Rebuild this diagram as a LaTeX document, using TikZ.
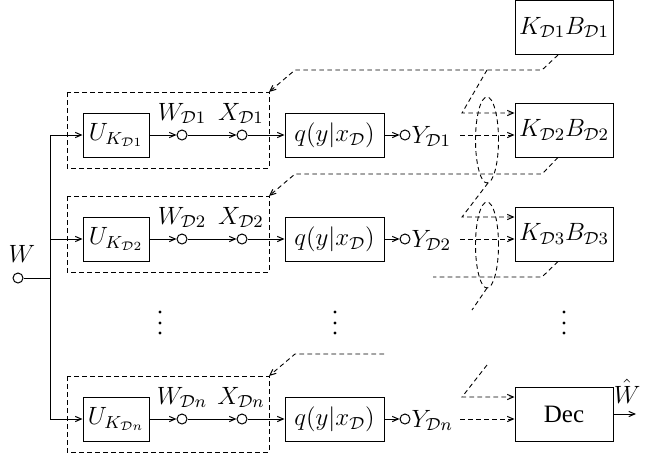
\documentclass[tikz,border=0pt]{standalone}
\usepackage{fix-cm}
\usepackage[no-math]{fontspec}
\setmainfont{Liberation Serif}
\usetikzlibrary{arrows.meta}

\tikzset{
  every node/.style={font=\fontsize{12.5}{15}\selectfont},
  dashline/.style={line width=0.45pt, dash pattern=on 2.3pt off 1.7pt},
  arr/.style={-{Straight Barb[length=3pt,width=2.6pt,line width=0.5pt]}},
  port/.style={circle, draw, line width=0.5pt, minimum size=5pt, inner sep=0pt},
  ubox/.style={draw, line width=0.5pt, minimum width=33pt, minimum height=22pt, inner sep=0pt},
  qbox/.style={draw, line width=0.5pt, minimum width=49.5pt, minimum height=22pt, inner sep=0pt},
  kbox/.style={draw, line width=0.5pt, minimum width=49pt, minimum height=27pt, inner sep=0pt},
  lbl/.style={inner sep=0pt},
}

\begin{document}
\begin{tikzpicture}[x=0.5pt, y=-0.5pt, line width=0.5pt]
\useasboundingbox (0,0) rectangle (657,461);

% source
\node[port] (src) at (18,278) {};
\node[lbl, anchor=base] at (22,262) {$W$};
\coordinate (bus1) at (50,135);
\coordinate (busn) at (50,419);
\coordinate (busm) at (50,278);
\draw (src) -- (busm);
\draw (bus1) -- (busn);

% encoder chains
\foreach \r/\y in {1/135, 2/239, n/419} {
  \coordinate (s\r) at (50,\y);
  \node[ubox] (u\r) at (116,\y) {$U_{K_{\mathcal{D}\r}}$};
  \node[port] (w\r) at (182,\y) {};
  \node[port] (x\r) at (242,\y) {};
  \node[qbox] (q\r) at (334.5,\y) {$q(y|x_{\mathcal{D}})$};
  \node[port] (y\r) at (405,\y) {};
  \node[lbl, anchor=base] at (182,{\y-15}) {$W_{\mathcal{D}\r}$};
  \node[lbl, anchor=base] at (241,{\y-15}) {$X_{\mathcal{D}\r}$};
  \node[lbl, anchor=base west] at (411,{\y+8}) {$Y_{\mathcal{D}\r}$};
  \draw[arr] (s\r) -- (u\r);
  \draw[arr] (u\r) -- (w\r);
  \draw[arr] (w\r) -- (x\r);
  \draw[arr] (x\r) -- (q\r);
  \draw[arr] (q\r) -- (y\r);
  % dashed encoder frame
  \draw[dashline] (67,{\y-43}) rectangle (269,{\y+33});
  \coordinate (c\r) at (269,{\y-43});
  \coordinate (d\r) at (295,{\y-65});
  \coordinate (o\r) at (460,\y);
}

% key/bin boxes and decoder
\node[kbox] (k1) at (564,27.5) {$K_{\mathcal{D}1}B_{\mathcal{D}1}$};
\node[kbox] (k2) at (564,130) {$K_{\mathcal{D}2}B_{\mathcal{D}2}$};
\node[kbox] (k3) at (564,234) {$K_{\mathcal{D}3}B_{\mathcal{D}3}$};
\node[kbox] (dec) at (564,414) {Dec};

% outputs into the next stage
\draw[dashline, arr] (o1) -- ([yshift=-2.5pt]k2.west);
\draw[dashline, arr] (o2) -- ([yshift=-2.5pt]k3.west);
\draw[dashline, arr] (on) -- ([yshift=-2.5pt]dec.west);

% feedback from each key box to the encoder frames
\draw[dashline, arr] ([xshift=-3pt]k1.south) -- (542,70) -- (d1) -- (c1);
\draw[dashline, arr] ([xshift=-3pt]k2.south) -- (542,174) -- (d2) -- (c2);
\draw[dashline] ([xshift=-3pt]k3.south) -- (542,277) -- (433,277);
\draw[dashline, arr] (384,354) -- (dn) -- (cn);

% grouped inputs
\draw[dashline] (487,140) ellipse [x radius=5.75pt, y radius=21.5pt];
\draw[dashline] (487,245) ellipse [x radius=5.75pt, y radius=21.5pt];
\draw[dashline, arr] (487,70) -- (462,113) -- ([yshift=8.5pt]k2.west);
\draw[dashline, arr] (488,183) -- (462,217) -- ([yshift=8.5pt]k3.west);
\draw[dashline] (487,288) -- (472,310);
\draw[dashline, arr] (487,365) -- (462,397) -- ([yshift=8.5pt]dec.west);

% decoder output
\coordinate (out) at (636,414);
\draw[arr] (dec) -- (out);
\node[lbl, anchor=base] at (627,403) {$\hat{W}$};

% continuation dots
\foreach \xx in {160,335,564}
  \foreach \yy in {312,323,333}
    \fill (\xx,\yy) circle (0.8pt);
\end{tikzpicture}
\end{document}
